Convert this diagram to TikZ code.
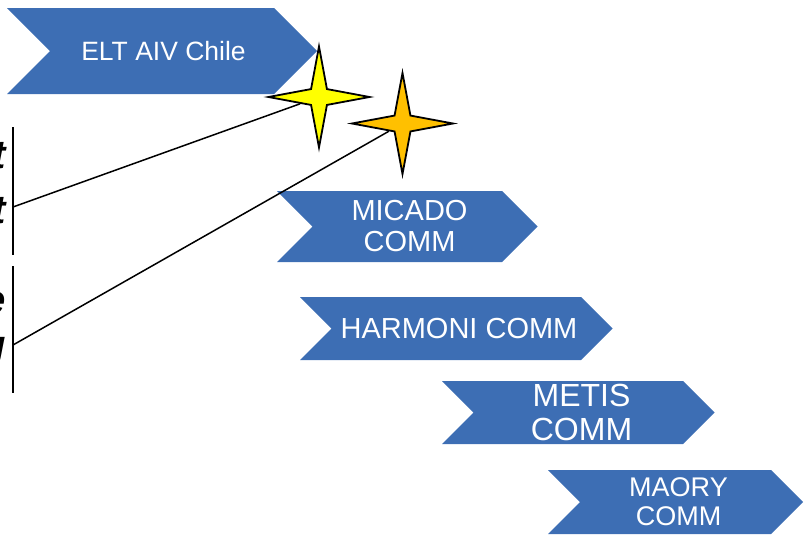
\documentclass[tikz,border=0pt]{standalone}
\usepackage{fontspec}
\setmainfont{Liberation Sans}
\usepackage{tikz}
\usetikzlibrary{shapes.geometric}
\definecolor{chevblue}{RGB}{61,110,180}
\definecolor{staryellow}{RGB}{255,255,0}
\definecolor{starorange}{RGB}{255,192,0}

\begin{document}
\begin{tikzpicture}[x=1pt,y=-1pt]
\tikzstyle{every node}+=[inner sep=0pt]
\tikzstyle{chevtext}=[text=white, align=center]
\tikzstyle{sparkle}=[star, star points=4, star point ratio=4.5, minimum size=101pt, draw=black, line width=1.8pt]
\useasboundingbox (0,0) rectangle (807,541);
\clip (0,0) rectangle (807,541);
% cut-off text on the left
\node[anchor=base east, font=\bfseries\itshape\fontsize{40}{40}\selectfont] (fraga) at (6,168) {t};
\node[anchor=base east, font=\bfseries\itshape\fontsize{40}{40}\selectfont] (fragb) at (6,223) {t};
\node[anchor=base east, font=\bfseries\itshape\fontsize{40}{40}\selectfont] (fragc) at (6,313) {e};
\node[anchor=base east, font=\bfseries\itshape\fontsize{40}{40}\selectfont] (fragd) at (6,358) {g};
\draw [black, line width=1.5pt] (13,127) -- (13,255);
\draw [black, line width=1.5pt] (13,266) -- (13,393);
\coordinate (srca) at (13,207);
\coordinate (srcb) at (13,345);
% chevrons
\fill [chevblue] (7,8) -- (274,8) -- (317,51) -- (274,94) -- (7,94) -- (50,51) -- cycle;
\node [chevtext, font=\fontsize{26.5}{29}\selectfont] (elt) at (163.5,51) {ELT AIV Chile};
\fill [chevblue] (277,191) -- (502,191) -- (537.5,226.5) -- (502,262) -- (277,262) -- (312.5,226.5) -- cycle;
\node [chevtext, font=\fontsize{29}{31}\selectfont] (micado) at (409.5,226.5) {MICADO\\COMM};
\fill [chevblue] (300,297) -- (581,297) -- (612.5,328.5) -- (581,360) -- (300,360) -- (331.5,328.5) -- cycle;
\node [chevtext, font=\fontsize{29}{31}\selectfont] (harmoni) at (459,328.5) {HARMONI COMM};
\fill [chevblue] (442,381) -- (683,381) -- (714.5,412.5) -- (683,444) -- (442,444) -- (473.5,412.5) -- cycle;
\node [chevtext, font=\fontsize{32}{34}\selectfont] (metis) at (581.5,412.5) {METIS\\COMM};
\fill [chevblue] (548,470) -- (771,470) -- (803,502) -- (771,534) -- (548,534) -- (580,502) -- cycle;
\node [chevtext, font=\fontsize{27}{29}\selectfont] (maory) at (678.5,502) {MAORY\\COMM};
% stars
\node [sparkle, fill=staryellow] (ystar) at (319,97) {};
\node [sparkle, fill=starorange] (ostar) at (402.5,123.5) {};
\draw [black, line width=1.5pt] (srca) -- (ystar);
\draw [black, line width=1.5pt] (srcb) -- (ostar);
\end{tikzpicture}
\end{document}
